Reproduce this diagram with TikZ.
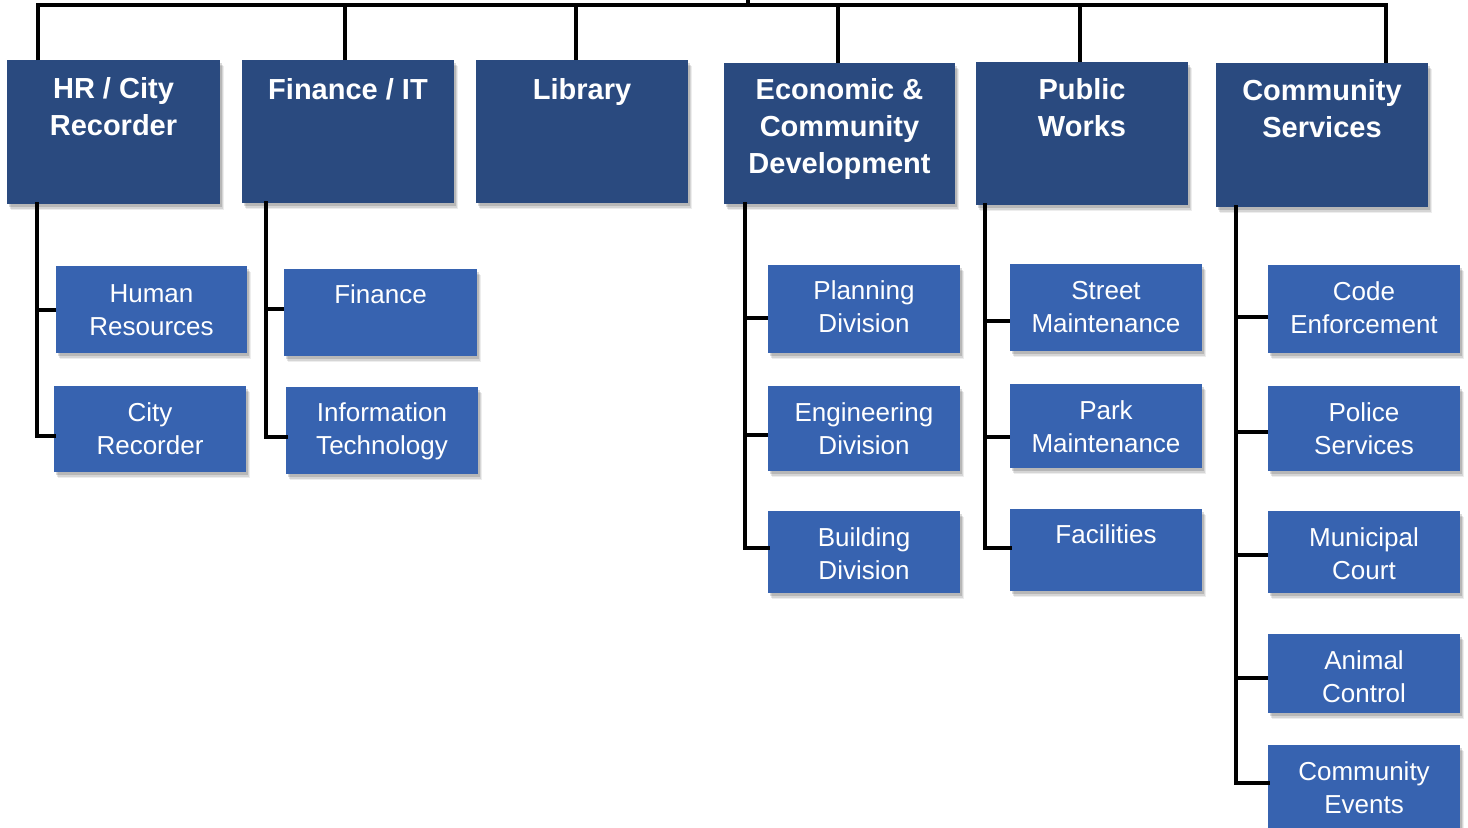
\documentclass[tikz,border=0pt]{standalone}
\usepackage{fontspec}
\setmainfont{Liberation Sans}
\usetikzlibrary{shadows}
\definecolor{hdr}{HTML}{2A4A7F}
\definecolor{sub}{HTML}{3763B0}
\tikzset{
  conn/.style={line width=1.75pt, black, line cap=rect},
  shadowed/.style={
    drop shadow={shadow xshift=2.2pt, shadow yshift=-3.2pt, opacity=0.07, fill=black},
    drop shadow={shadow xshift=1.7pt, shadow yshift=-2.4pt, opacity=0.10, fill=black},
    drop shadow={shadow xshift=1.2pt, shadow yshift=-1.6pt, opacity=0.14, fill=black}},
  hbox/.style={fill=hdr, draw=none, shadowed, inner sep=0pt, outer sep=0pt, anchor=north west},
  sbox/.style={fill=sub, draw=none, shadowed, inner sep=0pt, outer sep=0pt, anchor=north west},
  htxt/.style={text=white, font=\fontsize{14.5}{18.5}\selectfont\bfseries, anchor=base, inner sep=0pt},
  stxt/.style={text=white, font=\fontsize{13}{16.75}\selectfont, anchor=base, inner sep=0pt},
}
\newcommand\orgbox[6]{%
  \node[#2, minimum width={(#5-#3)*0.5pt}, minimum height={(#6-#4)*0.5pt}] (#1) at (#3,#4) {};}
\newcommand\orgtext[4]{%
  \node[#2] (#1t) at ([yshift=-#3pt]#1.north) {\parbox[t]{120pt}{\centering #4}};}
\begin{document}
\begin{tikzpicture}[x=0.5pt, y=-0.5pt]
\useasboundingbox (0,0) rectangle (1468,827);
% headers
\orgbox{hr}{hbox}{7}{60}{220}{204}
\orgbox{fin}{hbox}{242}{60}{454}{203}
\orgbox{lib}{hbox}{476}{60}{688}{203}
\orgbox{ecd}{hbox}{724}{63}{955}{204}
\orgbox{pw}{hbox}{976}{62}{1188}{205}
\orgbox{cs}{hbox}{1216}{63}{1428}{207}
\orgtext{hr}{htxt}{19}{HR / City\\Recorder}
\orgtext{fin}{htxt}{19.5}{Finance / IT}
\orgtext{lib}{htxt}{19.5}{Library}
\orgtext{ecd}{htxt}{18}{Economic \&\\Community\\Development}
\orgtext{pw}{htxt}{18.5}{Public\\Works}
\orgtext{cs}{htxt}{18.5}{Community\\Services}
% children
\orgbox{hra}{sbox}{56}{266}{247}{353}
\orgbox{hrb}{sbox}{54}{386}{246}{472}
\orgbox{fia}{sbox}{284}{269}{477}{356}
\orgbox{fib}{sbox}{286}{387}{478}{474}
\orgbox{eca}{sbox}{768}{265}{960}{353}
\orgbox{ecb}{sbox}{768}{386}{960}{471}
\orgbox{ecc}{sbox}{768}{511}{960}{593}
\orgbox{pwa}{sbox}{1010}{264}{1202}{351}
\orgbox{pwb}{sbox}{1010}{384}{1202}{468}
\orgbox{pwc}{sbox}{1010}{509}{1202}{591}
\orgbox{csa}{sbox}{1268}{265}{1460}{353}
\orgbox{csb}{sbox}{1268}{386}{1460}{471}
\orgbox{csc}{sbox}{1268}{511}{1460}{593}
\orgbox{csd}{sbox}{1268}{634}{1460}{713}
\orgbox{cse}{sbox}{1268}{745}{1460}{850}
\orgtext{hra}{stxt}{18}{Human\\Resources}
\orgtext{hrb}{stxt}{17.5}{City\\Recorder}
\orgtext{fia}{stxt}{17}{Finance}
\orgtext{fib}{stxt}{17}{Information\\Technology}
\orgtext{eca}{stxt}{17}{Planning\\Division}
\orgtext{ecb}{stxt}{17.5}{Engineering\\Division}
\orgtext{ecc}{stxt}{17.5}{Building\\Division}
\orgtext{pwa}{stxt}{17.5}{Street\\Maintenance}
\orgtext{pwb}{stxt}{17.5}{Park\\Maintenance}
\orgtext{pwc}{stxt}{17}{Facilities}
\orgtext{csa}{stxt}{17.5}{Code\\Enforcement}
\orgtext{csb}{stxt}{17.5}{Police\\Services}
\orgtext{csc}{stxt}{17.5}{Municipal\\Court}
\orgtext{csd}{stxt}{17.5}{Animal\\Control}
\orgtext{cse}{stxt}{17.5}{Community\\Events}
% top bus
\coordinate (root) at (748,0);
\coordinate (busl) at (38,5);
\coordinate (busr) at (1386,5);
\draw[conn, line cap=butt] (root) -- (748,5);
\draw[conn] (busl) -- (busr);
\draw[conn, line cap=butt] (hr.north -| 38,0) -- (busl);
\draw[conn, line cap=butt] (fin.north -| 345,0) -- (345,5);
\draw[conn, line cap=butt] (lib.north -| 576,0) -- (576,5);
\draw[conn, line cap=butt] (ecd.north -| 838,0) -- (838,5);
\draw[conn, line cap=butt] (pw.north -| 1080,0) -- (1080,5);
\draw[conn, line cap=butt] (cs.north -| 1386,0) -- (busr);
% HR
\draw[conn] (hr.south -| 37,0) -- (37,436) -- (hrb.west |- 0,436);
\draw[conn, line cap=butt] (37,310) -- (hra.west |- 0,310);
% Finance
\draw[conn] (fin.south -| 266,0) -- (266,437) -- (fib.west |- 0,437);
\draw[conn, line cap=butt] (266,309) -- (fia.west |- 0,309);
% ECD
\draw[conn] (ecd.south -| 745,0) -- (745,548) -- (ecc.west |- 0,548);
\draw[conn, line cap=butt] (745,318) -- (eca.west |- 0,318);
\draw[conn, line cap=butt] (745,435) -- (ecb.west |- 0,435);
% Public Works
\draw[conn] (pw.south -| 985,0) -- (985,548) -- (pwc.west |- 0,548);
\draw[conn, line cap=butt] (985,321) -- (pwa.west |- 0,321);
\draw[conn, line cap=butt] (985,437) -- (pwb.west |- 0,437);
% Community Services
\draw[conn] (cs.south -| 1236,0) -- (1236,783) -- (cse.west |- 0,783);
\draw[conn, line cap=butt] (1236,317) -- (csa.west |- 0,317);
\draw[conn, line cap=butt] (1236,432) -- (csb.west |- 0,432);
\draw[conn, line cap=butt] (1236,555) -- (csc.west |- 0,555);
\draw[conn, line cap=butt] (1236,678) -- (csd.west |- 0,678);
\end{tikzpicture}
\end{document}
